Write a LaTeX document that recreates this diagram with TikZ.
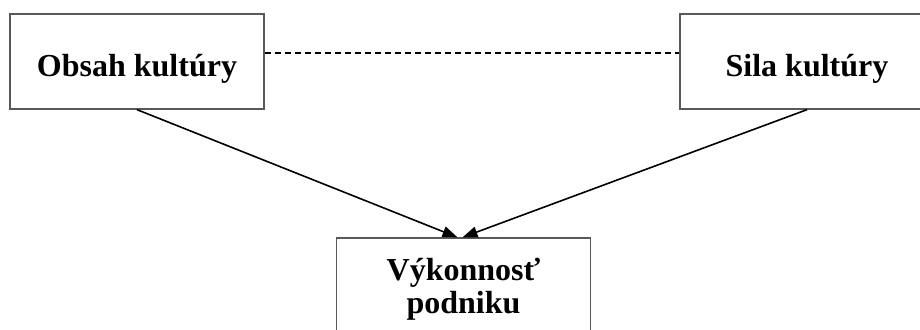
\documentclass[tikz,border=0pt]{standalone}
\usepackage{fontspec}
\setmainfont{Liberation Serif}
\usetikzlibrary{arrows.meta,positioning}
\begin{document}
\begin{tikzpicture}[x=1pt,y=1pt,
    box/.style={draw=black!65, line width=1.3pt, minimum width=254pt, minimum height=95pt,
      inner sep=0pt, align=center, text height=34pt, text depth=3pt,
      font=\fontsize{32}{32}\selectfont\bfseries},
    boxtext/.style={align=center, inner sep=0pt, anchor=base,
      font=\fontsize{32}{32}\selectfont\bfseries},
    conn/.style={black, line width=1.6pt, -{Triangle[length=15pt,width=11pt]}}]
    \useasboundingbox (0,0) rectangle (920,329);
    % the three boxes
    \node[box] (obsah) at (137,267.5) {Obsah kultúry};
    \node[box] (sila) at (807,267.5) {Sila kultúry};
    \node[box] (vykon) at (463.5,43.5) {};
    \node[boxtext] (vykontext) at (463.5,16) {Výkonnosť\\podniku};
    % links
    \draw[black, line width=1.2pt, dash pattern=on 6pt off 4pt]
        ([yshift=8.5pt]obsah.east) -- ([yshift=8.5pt]sila.west);
    \draw[conn] (obsah.south) -- ([xshift=-6pt]vykon.north);
    \draw[conn] (sila.south) -- ([xshift=-1pt]vykon.north);
\end{tikzpicture}
\end{document}
